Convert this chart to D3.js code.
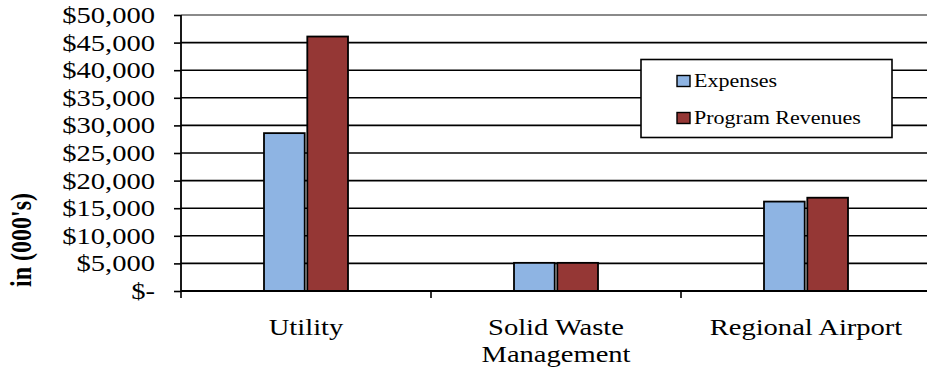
<!DOCTYPE html>
<html>
<head>
<meta charset="utf-8">
<script src="https://cdn.jsdelivr.net/npm/d3@7"></script>
<style>
  html, body { margin: 0; padding: 0; background: #fff; }
  svg { display: block; }
</style>
</head>
<body>
<svg id="chart" width="927" height="377"></svg>
<script>
// Program data, in thousands of dollars
const categories = [["Utility"], ["Solid Waste", "Management"], ["Regional Airport"]];
const seriesNames = ["Expenses", "Program Revenues"];
const expenses = [28600, 5100, 16200];
const programRevenues = [46100, 5100, 16900];
const yTicks = [0, 5000, 10000, 15000, 20000, 25000, 30000, 35000, 40000, 45000, 50000];
const yTickLabels = ["$-", "$5,000", "$10,000", "$15,000", "$20,000", "$25,000", "$30,000", "$35,000", "$40,000", "$45,000", "$50,000"];
const yTitle = "in (000's)";
const colors = ["#8EB4E3", "#953735"];

const W = 927, H = 377;
const plotL = 181, plotR = 931, plotT = 15, plotB = 291;
const sx = 1.19; // horizontal text stretch
const FONT = "'Liberation Serif', 'Times New Roman', Times, serif";

const svg = d3.select("#chart").style("font-family", FONT);
const catKeys = categories.map(c => c.join(" "));

const x = d3.scaleBand().domain(catKeys).range([plotL, plotR]).paddingInner(0).paddingOuter(0);
const x1 = d3.scaleBand().domain(seriesNames).range([-42, 42]).paddingInner(0.06);
const y = d3.scaleLinear().domain([0, 50000]).range([plotB, plotT]);

// gridlines
svg.append("g").selectAll("line")
  .data(yTicks.filter(v => v > 0))
  .join("line")
  .attr("x1", plotL).attr("x2", W)
  .attr("y1", d => y(d)).attr("y2", d => y(d))
  .attr("stroke", d => d === 50000 ? "#8a8a8a" : "#000")
  .attr("stroke-width", d => d === 50000 ? 2 : 1.6);

// bars
const rows = catKeys.map((k, i) => ({ key: k, vals: [expenses[i], programRevenues[i]] }));
const groups = svg.append("g").selectAll("g")
  .data(rows).join("g")
  .attr("transform", d => `translate(${x(d.key) + x.bandwidth() / 2},0)`);
groups.selectAll("rect")
  .data(d => d.vals.map((v, j) => ({ name: seriesNames[j], v, j })))
  .join("rect")
  .attr("x", d => x1(d.name))
  .attr("width", x1.bandwidth())
  .attr("y", d => y(d.v))
  .attr("height", d => y(0) - y(d.v))
  .attr("fill", d => colors[d.j])
  .attr("stroke", "#000")
  .attr("stroke-width", 1.8);

// y axis
const yAxis = d3.axisLeft(y).tickValues(yTicks).tickSize(7).tickFormat("");
const ya = svg.append("g").attr("transform", `translate(${plotL},0)`).call(yAxis);
ya.select(".domain").attr("stroke", "#000").attr("stroke-width", 1.8).attr("d", `M0,${plotT}V${plotB}`);
ya.selectAll(".tick line").attr("stroke", "#000").attr("stroke-width", 1.6);

svg.append("g").selectAll("text")
  .data(yTicks)
  .join("text")
  .attr("transform", d => `translate(${plotL - 26},${y(d)}) scale(${sx},1)`)
  .attr("text-anchor", "end")
  .attr("dy", "0.33em")
  .style("font-family", FONT)
  .style("font-size", "24px")
  .text((d, i) => yTickLabels[i]);

// x axis
svg.append("line")
  .attr("x1", plotL).attr("x2", W)
  .attr("y1", plotB).attr("y2", plotB)
  .attr("stroke", "#000").attr("stroke-width", 2);
const bounds = catKeys.map(k => x(k)).concat([plotR]);
svg.append("g").selectAll("line")
  .data(bounds).join("line")
  .attr("x1", d => d).attr("x2", d => d)
  .attr("y1", plotB).attr("y2", plotB + 7)
  .attr("stroke", "#000").attr("stroke-width", 1.6);

const cl = svg.append("g").selectAll("text")
  .data(categories).join("text")
  .attr("transform", (d, i) => `translate(${x(catKeys[i]) + x.bandwidth() / 2},335) scale(${sx},1)`)
  .attr("text-anchor", "middle")
  .style("font-family", FONT)
  .style("font-size", "24px");
cl.selectAll("tspan")
  .data(d => d).join("tspan")
  .attr("x", 0)
  .attr("dy", (d, i) => i === 0 ? 0 : 27)
  .text(d => d);

// y axis title
svg.append("text")
  .attr("transform", `translate(31,240) scale(${sx},1) rotate(-90)`)
  .attr("text-anchor", "middle")
  .style("font-family", FONT)
  .style("font-size", "24px")
  .style("font-weight", "bold")
  .text(yTitle);

// legend
const lg = svg.append("g");
lg.append("rect")
  .attr("x", 641).attr("y", 59.5).attr("width", 251).attr("height", 78)
  .attr("fill", "#fff").attr("stroke", "#000").attr("stroke-width", 1.6);
const items = lg.selectAll("g.item").data(seriesNames).join("g")
  .attr("class", "item")
  .attr("transform", (d, i) => `translate(677,${81 + i * 37})`);
items.append("rect")
  .attr("x", 0).attr("y", -5.5).attr("width", 13).attr("height", 11)
  .attr("fill", (d, i) => colors[i])
  .attr("stroke", "#000").attr("stroke-width", 1.4);
items.append("text")
  .attr("transform", `translate(17,0) scale(${sx},1)`)
  .attr("dy", "0.35em")
  .style("font-family", FONT)
  .style("font-size", "18.5px")
  .text(d => d);
</script>
</body>
</html>
